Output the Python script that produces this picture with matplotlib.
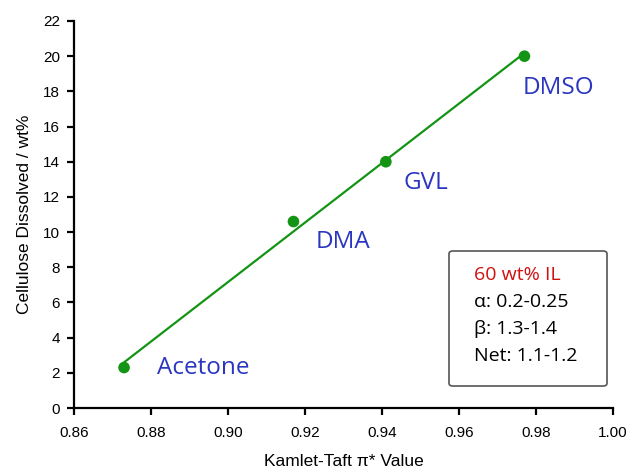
import numpy as np
from matplotlib import pyplot as plt
from matplotlib.patches import FancyBboxPatch

solvents = ['Acetone', 'DMA', 'GVL', 'DMSO']
pi_star = [0.873, 0.917, 0.941, 0.977]
dissolved = [2.3, 10.6, 14.0, 20.0]
box_lines = ['60 wt% IL', '\u03b1: 0.2-0.25', '\u03b2: 1.3-1.4', 'Net: 1.1-1.2']

green = '#149414'
blue = '#2a35c0'

fig = plt.figure(figsize=(6.29, 4.71), dpi=100)
ax = fig.add_axes([74/629, 1-408/471, (613-74)/629, (408-21)/471])

# linear trendline
k, b = np.polyfit(pi_star, dissolved, 1)
xs = np.array([pi_star[0], pi_star[-1]])
ax.plot(xs, k*xs + b, color=green, lw=1.6, zorder=2)
ax.scatter(pi_star, dissolved, s=70, color=green, zorder=3, edgecolors='none')

offsets = [(24, 0), (16, -15), (13, -15), (-1.5, -23)]
for name, x, y, (dx, dy) in zip(solvents, pi_star, dissolved, offsets):
    ax.annotate(name, (x, y), xytext=(dx, dy), textcoords='offset points',
                color=blue, fontsize=17.5, family='Open Sans', va='center', ha='left')

ax.set_xlim(0.86, 1.00)
ax.set_ylim(0, 22)
ax.set_xticks(np.arange(0.86, 1.001, 0.02))
ax.set_yticks(range(0, 23, 2))
ax.xaxis.set_major_formatter(plt.FormatStrFormatter('%.2f'))
for s in ['top', 'right']:
    ax.spines[s].set_visible(False)
for s in ['left', 'bottom']:
    ax.spines[s].set_linewidth(1.6)
ax.tick_params(direction='out', length=5, width=1.6, labelsize=11, pad=5)
ax.tick_params(axis='x', pad=8)
for lab in ax.get_xticklabels() + ax.get_yticklabels():
    lab.set_family('Liberation Sans')
ax.set_xlabel('Kamlet-Taft \u03c0* Value', family='Liberation Sans', fontsize=12.5, labelpad=10)
ax.set_ylabel('Cellulose Dissolved / wt%', family='Liberation Sans', fontsize=12.5, labelpad=8)

# info box
box = FancyBboxPatch((449/629, 1-386/471), (607-449)/629, (386-251)/471,
                     boxstyle='round,pad=0,rounding_size=0.006', transform=fig.transFigure,
                     facecolor='white', edgecolor='#555555', lw=1.2)
fig.patches.append(box)
for i, t in enumerate(box_lines):
    fig.text(474/629, 1-(275 + 27*i)/471, t, color='#d01010' if i == 0 else 'black',
             fontsize=14, family=['Open Sans', 'DejaVu Sans'], va='center', ha='left')

fig.savefig('out.png', dpi=100)
